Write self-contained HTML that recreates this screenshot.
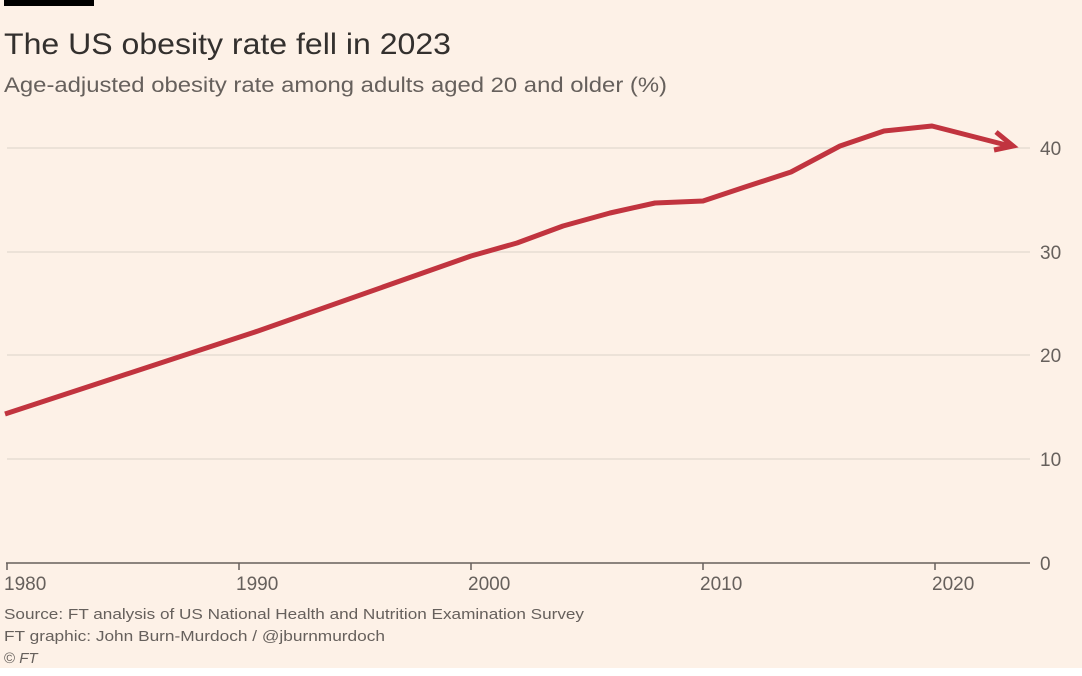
<!DOCTYPE html>
<html><head><meta charset="utf-8"><style>
html,body{margin:0;padding:0;background:#fff;}
body{width:1082px;height:676px;overflow:hidden;font-family:"Liberation Sans",sans-serif;}
#c{position:absolute;left:0;top:0;width:1082px;height:668px;background:#fdf1e7;}
</style></head><body>
<div id="c">
<svg width="1082" height="668" xmlns="http://www.w3.org/2000/svg" font-family="Liberation Sans, sans-serif">
<rect x="4" y="0" width="90" height="6" fill="#000"/>
<text x="4" y="54" font-size="30" fill="#33302e" textLength="447" lengthAdjust="spacingAndGlyphs">The US obesity rate fell in 2023</text>
<text x="4" y="92" font-size="21" fill="#66605c" textLength="663" lengthAdjust="spacingAndGlyphs">Age-adjusted obesity rate among adults aged 20 and older (%)</text>
<g stroke="#e3d9d0" stroke-width="1.2">
<line x1="7" y1="148" x2="1030" y2="148"/>
<line x1="7" y1="252" x2="1030" y2="252"/>
<line x1="7" y1="355" x2="1030" y2="355"/>
<line x1="7" y1="459" x2="1030" y2="459"/>
</g>
<g font-size="19" fill="#66605c">
<text x="1040" y="155">40</text><text x="1040" y="259">30</text><text x="1040" y="362">20</text><text x="1040" y="466">10</text><text x="1040" y="570">0</text>
</g>
<g stroke="#66605c" stroke-width="1.5" fill="none">
<line x1="6" y1="563" x2="1030" y2="563"/>
<line x1="7" y1="563" x2="7" y2="570"/><line x1="239" y1="563" x2="239" y2="570"/><line x1="471" y1="563" x2="471" y2="570"/><line x1="703" y1="563" x2="703" y2="570"/><line x1="935" y1="563" x2="935" y2="570"/>
</g>
<g font-size="19" fill="#66605c">
<text x="4" y="590">1980</text><text x="236" y="590">1990</text><text x="468" y="590">2000</text><text x="700" y="590">2010</text><text x="932" y="590">2020</text>
</g>
<polyline fill="none" stroke="#c1343f" stroke-width="5" stroke-linejoin="round" points="5,414 258,331 471,256 517,243 563,226 610,213 655,203 703,201 745,187 791,172 840,146 884,131 932,126 1010,146"/>
<polyline fill="none" stroke="#c1343f" stroke-width="5" stroke-linejoin="miter" points="996,132 1013,146 994,150"/>
<g font-size="15" fill="#66605c">
<text x="4" y="619" textLength="580" lengthAdjust="spacingAndGlyphs">Source: FT analysis of US National Health and Nutrition Examination Survey</text>
<text x="4" y="641" textLength="381" lengthAdjust="spacingAndGlyphs">FT graphic: John Burn-Murdoch / @jburnmurdoch</text>
<text x="4" y="663">© <tspan font-style="italic">FT</tspan></text>
</g>
</svg>
</div>
</body></html>
